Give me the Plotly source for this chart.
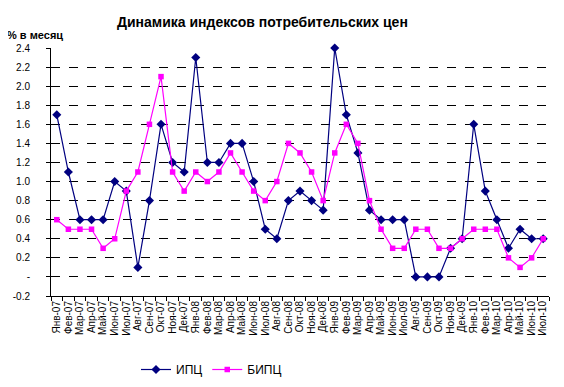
import plotly.graph_objects as go

months = ["Янв-07","Фев-07","Мар-07","Апр-07","Май-07","Июн-07","Июл-07","Авг-07","Сен-07","Окт-07","Ноя-07","Дек-07",
          "Янв-08","Фев-08","Мар-08","Апр-08","Май-08","Июн-08","Июл-08","Авг-08","Сен-08","Окт-08","Ноя-08","Дек-08",
          "Янв-09","Фев-09","Мар-09","Апр-09","Май-09","Июн-09","Июл-09","Авг-09","Сен-09","Окт-09","Ноя-09","Дек-09",
          "Янв-10","Фев-10","Мар-10","Апр-10","Май-10","Июн-10","Июл-10"]

ipc = [1.7,1.1,0.6,0.6,0.6,1.0,0.9,0.1,0.8,1.6,1.2,1.1,
       2.3,1.2,1.2,1.4,1.4,1.0,0.5,0.4,0.8,0.9,0.8,0.7,
       2.4,1.7,1.3,0.7,0.6,0.6,0.6,0.0,0.0,0.0,0.3,0.4,
       1.6,0.9,0.6,0.3,0.5,0.4,0.4]

bipc = [0.6,0.5,0.5,0.5,0.3,0.4,0.9,1.1,1.6,2.1,1.1,0.9,
        1.1,1.0,1.1,1.3,1.1,0.9,0.8,1.0,1.4,1.3,1.1,0.8,
        1.3,1.6,1.4,0.8,0.5,0.3,0.3,0.5,0.5,0.3,0.3,0.4,
        0.5,0.5,0.5,0.2,0.1,0.2,0.4]

ytick_vals = [-0.2,0,0.2,0.4,0.6,0.8,1.0,1.2,1.4,1.6,1.8,2.0,2.2,2.4]
ytick_text = ["-0.2","-","0.2","0.4","0.6","0.8","1.0","1.2","1.4","1.6","1.8","2.0","2.2","2.4"]

font = "Liberation Sans, Arial, sans-serif"

fig = go.Figure()
fig.add_trace(go.Scatter(x=months, y=ipc, name="ИПЦ", mode="lines+markers",
                         line=dict(color="#000080", width=1.2), cliponaxis=False,
                         marker=dict(symbol="diamond", size=7, color="#000080")))
fig.add_trace(go.Scatter(x=months, y=bipc, name="БИПЦ", mode="lines+markers",
                         line=dict(color="#FF00FF", width=1.2), cliponaxis=False,
                         marker=dict(symbol="square", size=5.5, color="#FF00FF")))

# page body has an 8px default margin; work in window pixel coordinates
OFF = 8
W, H = 564 - OFF, 387 - OFF
PL, PR, PT, PB = 51, 549, 48, 296          # plot area in window pixels
L, R, T, B = PL - OFF, 564 - PR, PT - OFF, 387 - PB
pw = PR - PL
ph = PB - PT

def px(x):
    return (x - PL) / pw

def py(y):
    return (PB - y) / ph

fig.update_layout(
    width=W, height=H,
    paper_bgcolor="white", plot_bgcolor="white",
    margin=dict(l=L, r=R, t=T, b=B, autoexpand=False),
    font=dict(family=font, size=10, color="black"),
    showlegend=True,
    legend=dict(orientation="h", x=px(136), xanchor="left", y=py(355), yanchor="top",
                font=dict(size=12), itemwidth=30, tracegroupgap=0, bgcolor="rgba(0,0,0,0)"),
    annotations=[
        dict(text="<b>Динамика индексов потребительских цен</b>", x=px(262), y=py(22),
             xref="paper", yref="paper", xanchor="center", yanchor="middle",
             showarrow=False, font=dict(size=14)),
        dict(text="<b>% в месяц</b>", x=px(5), y=py(35), xref="paper", yref="paper",
             xanchor="left", yanchor="middle", showarrow=False, font=dict(size=11)),
    ],
)

fig.update_xaxes(
    type="category", range=[-0.5, len(months) - 0.5],
    tickmode="array", tickvals=months, ticktext=months,
    showline=True, linecolor="black", linewidth=1,
    ticks="outside", tickson="boundaries", ticklen=4, tickcolor="black",
    tickangle=-90, tickfont=dict(size=10), showgrid=False, automargin=False,
)
fig.update_yaxes(
    range=[-0.2, 2.4], tickmode="array", tickvals=ytick_vals, ticktext=ytick_text,
    showline=True, linecolor="black", linewidth=1,
    ticks="outside", ticklen=4, tickcolor="black", ticklabelstandoff=14,
    showgrid=True, gridcolor="black", griddash="dash", gridwidth=1,
    zeroline=False, tickfont=dict(size=10), automargin=False,
)

fig.write_html("out.html")
